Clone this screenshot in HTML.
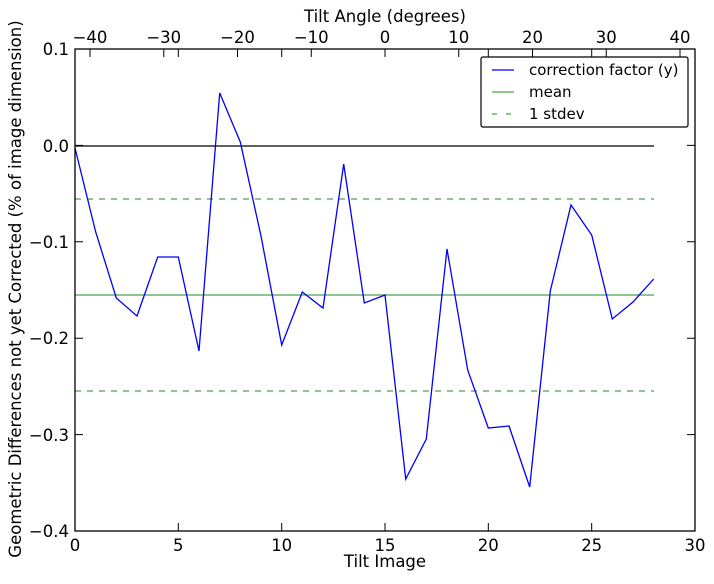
<!DOCTYPE html>
<html><head><style>body{margin:0;background:#fff}</style></head><body>
<svg width="714" height="579" xmlns="http://www.w3.org/2000/svg" font-family="DejaVu Sans, sans-serif" font-size="16.5">
<rect width="714" height="579" fill="#fff"/>
<line x1="75" y1="146" x2="654" y2="146" stroke="#000" stroke-width="1.3"/>
<line x1="75" y1="295" x2="654" y2="295" stroke="#50a050" stroke-width="1.3"/>
<line x1="75" y1="199" x2="654" y2="199" stroke="#50a050" stroke-width="1.3" stroke-dasharray="6,6"/>
<line x1="75" y1="391" x2="654" y2="391" stroke="#50a050" stroke-width="1.3" stroke-dasharray="6,6"/>
<polyline fill="none" stroke="#0000ff" stroke-width="1.3" points="75,148 95.7,232 116.3,298 137,316 157.7,257 178.3,257 199,351 219.7,93 240.3,142 261,236 281.7,345 302.3,292 323,308 343.7,164 364.3,303 385,295 405.7,479 426.3,439 447,249 467.7,370 488.3,428 509,426 529.7,487 550.3,291 571,205 591.7,235 612.3,319 633,302 653.7,279"/>
<rect x="75" y="49" width="620" height="482" fill="none" stroke="#000" stroke-width="1.3"/>
<g stroke="#000" stroke-width="1">
<path d="M75,531v-8M178.3,531v-8M281.7,531v-8M385,531v-8M488.3,531v-8M591.7,531v-8M695,531v-8"/>
<path d="M75,49v8M178.3,49v8M281.7,49v8M385,49v8M488.3,49v8M591.7,49v8M695,49v8"/>
<path d="M90,49v8M163.75,49v8M237.5,49v8M311.25,49v8M385,49v8M458.75,49v8M532.5,49v8M606.25,49v8M680,49v8"/>
<path d="M75,49h8M75,145.4h8M75,241.8h8M75,338.2h8M75,434.6h8M75,531h8"/>
<path d="M695,49h-8M695,145.4h-8M695,241.8h-8M695,338.2h-8M695,434.6h-8M695,531h-8"/>
</g>
<g text-anchor="middle">
<text x="75" y="551">0</text><text x="178.3" y="551">5</text><text x="281.7" y="551">10</text><text x="385" y="551">15</text><text x="488.3" y="551">20</text><text x="591.7" y="551">25</text><text x="695" y="551">30</text>
<text x="385" y="567">Tilt Image</text>
<text x="90" y="43">−40</text><text x="163.75" y="43">−30</text><text x="237.5" y="43">−20</text><text x="311.25" y="43">−10</text><text x="385" y="43">0</text><text x="458.75" y="43">10</text><text x="532.5" y="43">20</text><text x="606.25" y="43">30</text><text x="680" y="43">40</text>
<text x="385" y="22">Tilt Angle (degrees)</text>
</g>
<g text-anchor="end">
<text x="69" y="55">0.1</text><text x="69" y="152">0.0</text><text x="69" y="248">−0.1</text><text x="69" y="344">−0.2</text><text x="69" y="441">−0.3</text><text x="69" y="537">−0.4</text>
</g>
<text transform="translate(21,289) rotate(-90)" text-anchor="middle">Geometric Differences not yet Corrected (% of image dimension)</text>
<rect x="481" y="57" width="207" height="70" fill="#fff" stroke="#000" stroke-width="1.2" rx="2"/>
<line x1="492" y1="70" x2="514" y2="70" stroke="#0000ff" stroke-width="1.3"/>
<line x1="492" y1="92" x2="514" y2="92" stroke="#50a050" stroke-width="1.3"/>
<line x1="492" y1="114" x2="514" y2="114" stroke="#50a050" stroke-width="1.3" stroke-dasharray="5,9"/>
<g font-size="15">
<text x="529" y="75">correction factor (y)</text>
<text x="529" y="97">mean</text>
<text x="529" y="119">1 stdev</text>
</g>
</svg>
</body></html>
